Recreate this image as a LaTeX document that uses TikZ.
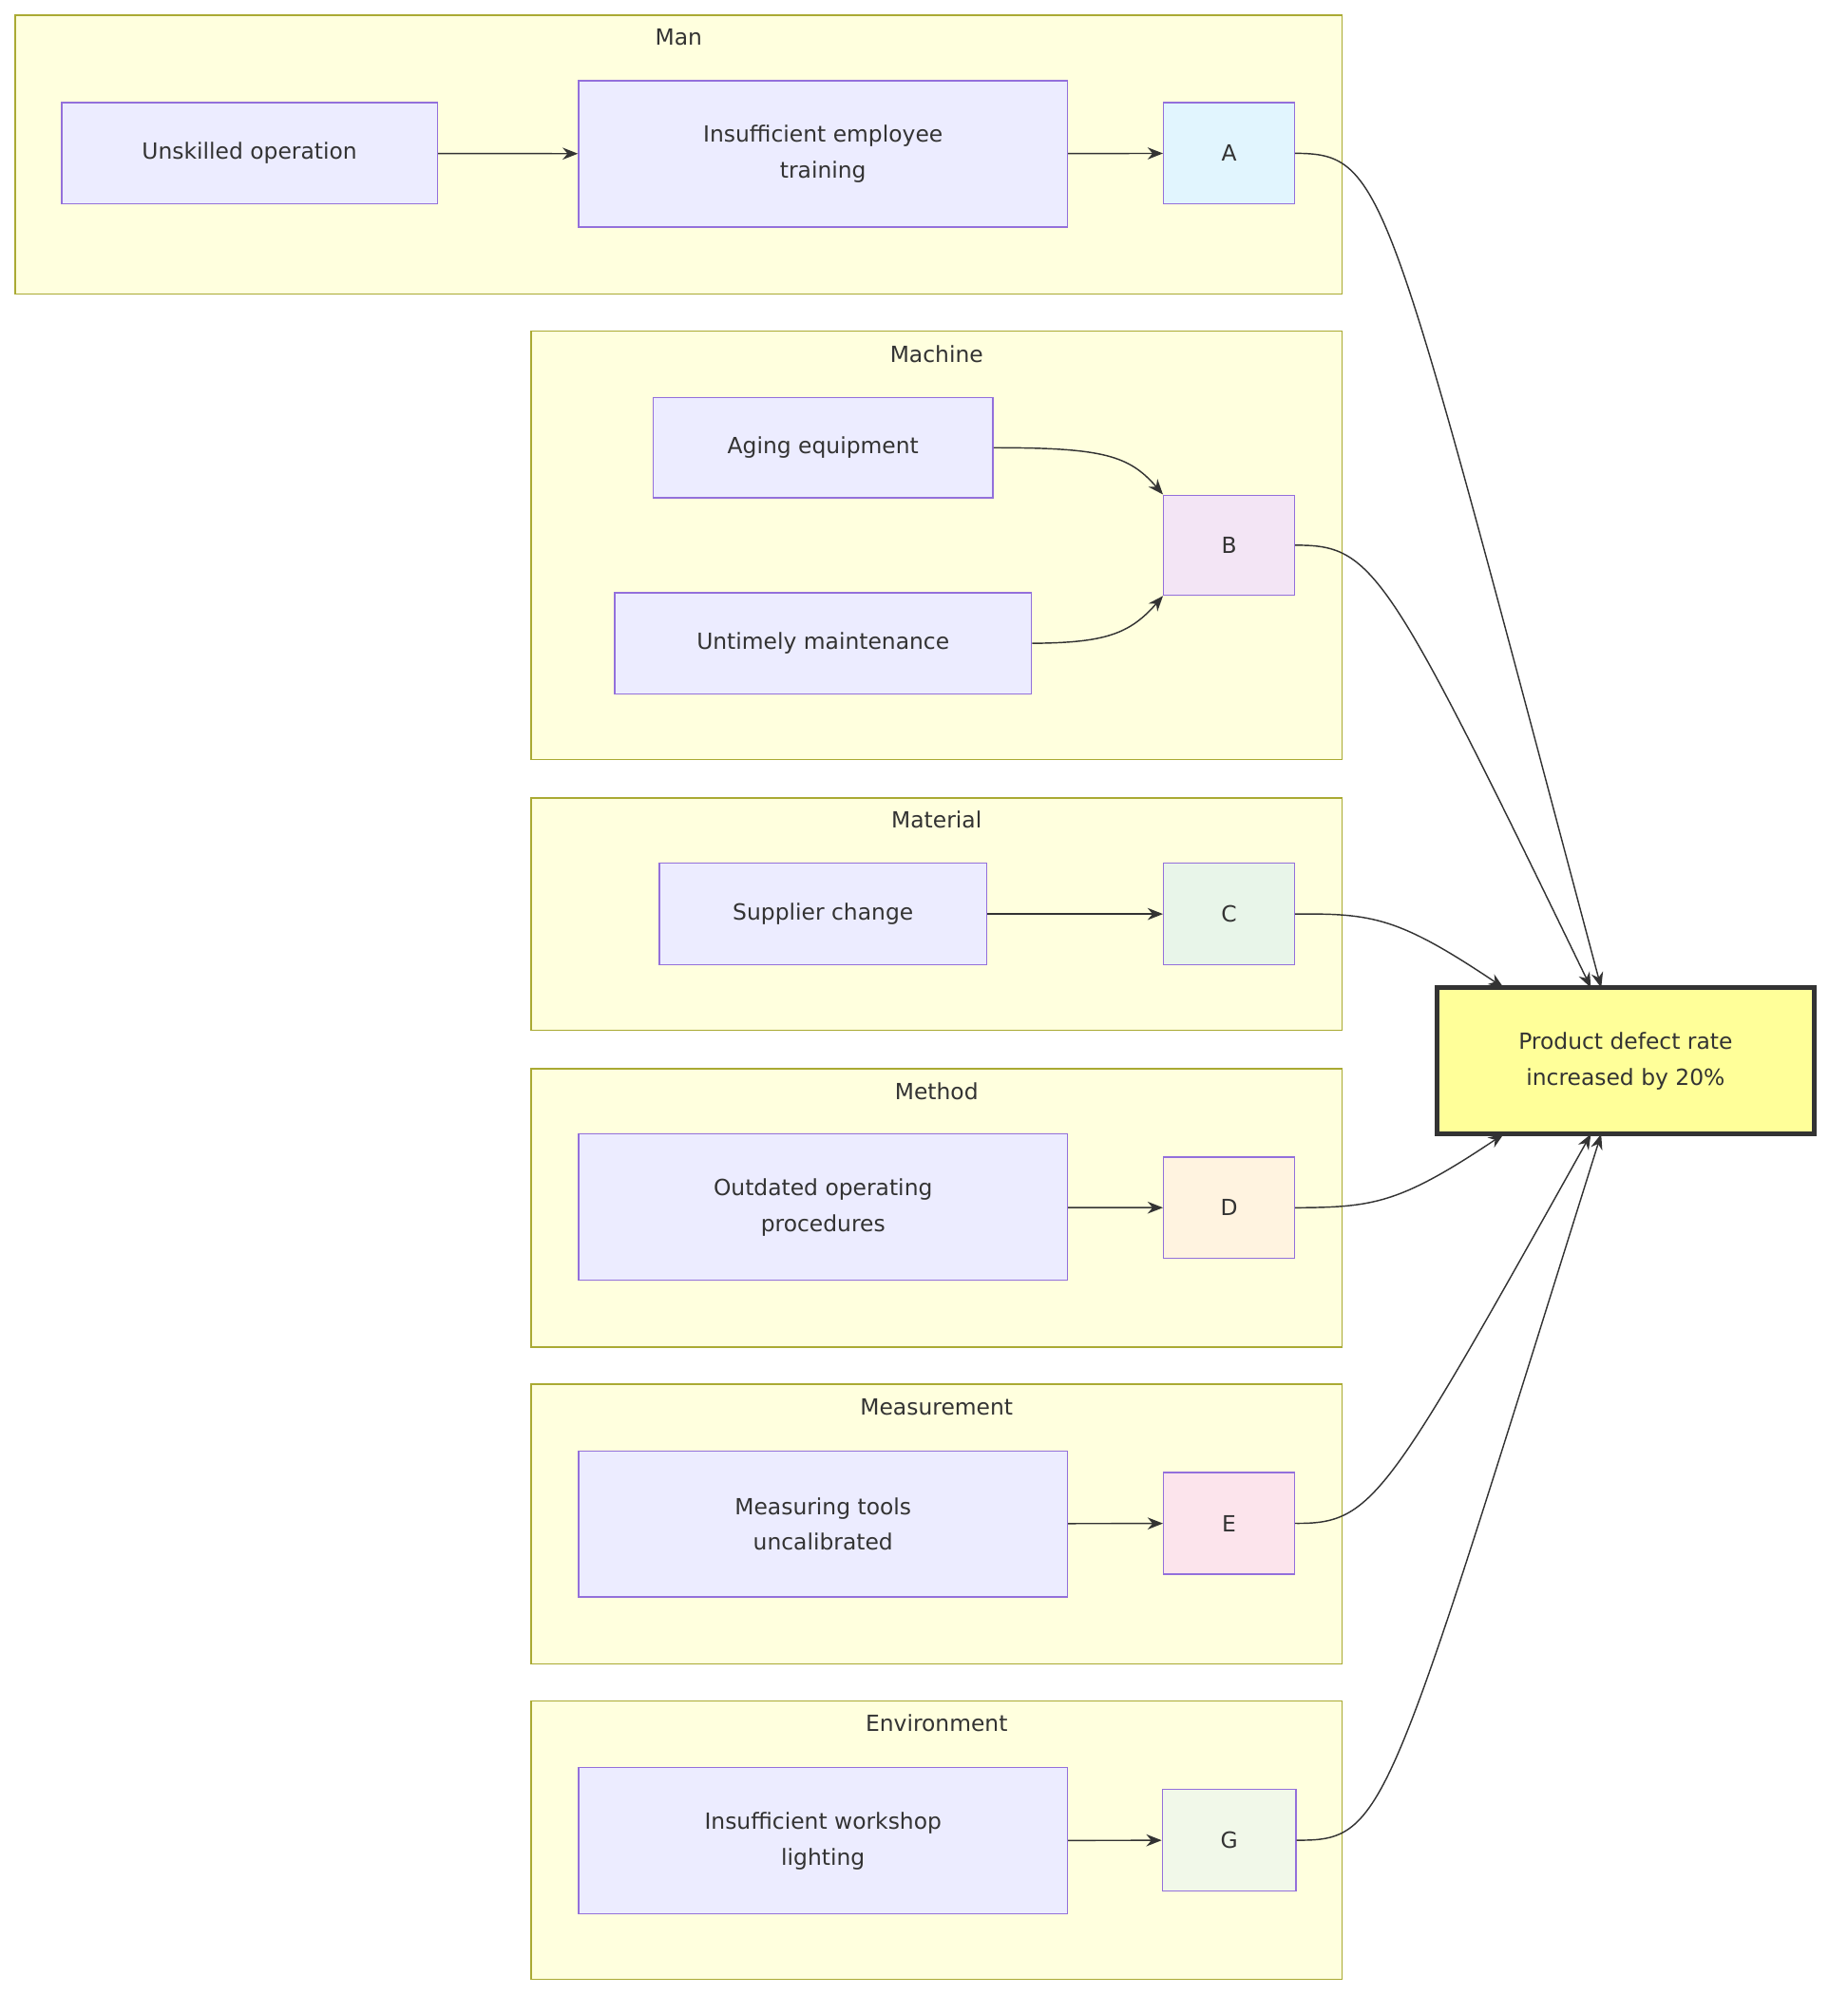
\documentclass[tikz,border=0pt]{standalone}
\usepackage{fontspec}
\setmainfont{DejaVu Sans}
\usetikzlibrary{arrows.meta}
\definecolor{nfill}{HTML}{ECECFF}
\definecolor{nline}{HTML}{9370DB}
\definecolor{cfill}{HTML}{FFFFDE}
\definecolor{cline}{HTML}{AAAA33}
\definecolor{ink}{HTML}{333333}
\begin{document}
\begin{tikzpicture}[x=0.75pt,y=-0.75pt,
  font=\fontsize{13}{21}\selectfont,
  box/.style={draw=nline,fill=nfill,line width=0.8pt,inner sep=0pt,align=center,text=ink},
  cl/.style={draw=cline,fill=cfill,line width=0.8pt},
  ttl/.style={text=ink,inner sep=0pt},
  arr/.style={draw=ink,line width=0.8pt,-{Stealth[length=9pt,width=7pt]}}]
\useasboundingbox (0,0) rectangle (1440,1570);
% clusters
\draw[cl] (12,12) rectangle (1046,229); \node[ttl] (tMan) at (529,29) {Man};
\draw[cl] (414,258) rectangle (1046,592); \node[ttl] (tMach) at (730,276) {Machine};
\draw[cl] (414,622) rectangle (1046,803); \node[ttl] (tMat) at (730,639) {Material};
\draw[cl] (414,833) rectangle (1046,1050); \node[ttl] (tMet) at (730,851) {Method};
\draw[cl] (414,1079) rectangle (1046,1297); \node[ttl] (tMea) at (730,1097) {Measurement};
\draw[cl] (414,1326) rectangle (1046,1543); \node[ttl] (tEnv) at (730,1343) {Environment};
% nodes
\node[box,minimum width=293*0.75pt,minimum height=79*0.75pt] (us) at (194.5,119.5) {Unskilled operation};
\node[box,minimum width=381*0.75pt,minimum height=114*0.75pt] (tr) at (641.5,120) {Insufficient employee\\training};
\node[box,fill={rgb,255:red,225;green,245;blue,254},minimum width=102*0.75pt,minimum height=79*0.75pt] (A) at (958,119.5) {A};
\node[box,minimum width=265*0.75pt,minimum height=78*0.75pt] (ag) at (641.5,349) {Aging equipment};
\node[box,minimum width=325*0.75pt,minimum height=79*0.75pt] (um) at (641.5,501.5) {Untimely maintenance};
\node[box,fill={rgb,255:red,243;green,229;blue,245},minimum width=102*0.75pt,minimum height=78*0.75pt] (B) at (958,425) {B};
\node[box,minimum width=255*0.75pt,minimum height=79*0.75pt] (sc) at (641.5,712.5) {Supplier change};
\node[box,fill={rgb,255:red,232;green,245;blue,233},minimum width=102*0.75pt,minimum height=79*0.75pt] (C) at (958,712.5) {C};
\node[box,minimum width=381*0.75pt,minimum height=114*0.75pt] (op) at (641.5,941) {Outdated operating\\procedures};
\node[box,fill={rgb,255:red,255;green,243;blue,224},minimum width=102*0.75pt,minimum height=79*0.75pt] (D) at (958,941.5) {D};
\node[box,minimum width=381*0.75pt,minimum height=114*0.75pt] (mt) at (641.5,1188) {Measuring tools\\uncalibrated};
\node[box,fill={rgb,255:red,252;green,228;blue,236},minimum width=102*0.75pt,minimum height=79*0.75pt] (E) at (958,1187.5) {E};
\node[box,minimum width=381*0.75pt,minimum height=114*0.75pt] (wl) at (641.5,1435) {Insufficient workshop\\lighting};
\node[box,fill={rgb,255:red,241;green,248;blue,233},minimum width=104*0.75pt,minimum height=79*0.75pt] (G) at (958,1434.5) {G};
\node[draw=ink,line width=3pt,fill={rgb,255:red,255;green,255;blue,153},inner sep=0pt,align=center,text=ink,minimum width=294*0.75pt,minimum height=114*0.75pt] (R) at (1267,827) {Product defect rate\\increased by 20\%};
% edges
\draw[arr] (us) -- (tr);
\draw[arr] (tr) -- (A);
\draw[arr] (sc) -- (C);
\draw[arr] (op) -- (D);
\draw[arr] (mt) -- (E);
\draw[arr] (wl) -- (G);
\draw[arr] (ag.east) .. controls (860,349) and (880,355) .. (B.north west);
\draw[arr] (um.east) .. controls (860,501) and (880,495) .. (B.south west);
\draw[arr] (A.east) .. controls (1080,120) and (1080,140) .. (1248,770);
\draw[arr] (B.east) .. controls (1070,425) and (1080,440) .. (1240,770);
\draw[arr] (C.east) .. controls (1070,712) and (1090,715) .. (1172,770);
\draw[arr] (D.east) .. controls (1070,941) and (1090,939) .. (1172,884);
\draw[arr] (E.east) .. controls (1070,1188) and (1080,1170) .. (1240,884);
\draw[arr] (G.east) .. controls (1080,1435) and (1080,1420) .. (1248,884);
\end{tikzpicture}
\end{document}
